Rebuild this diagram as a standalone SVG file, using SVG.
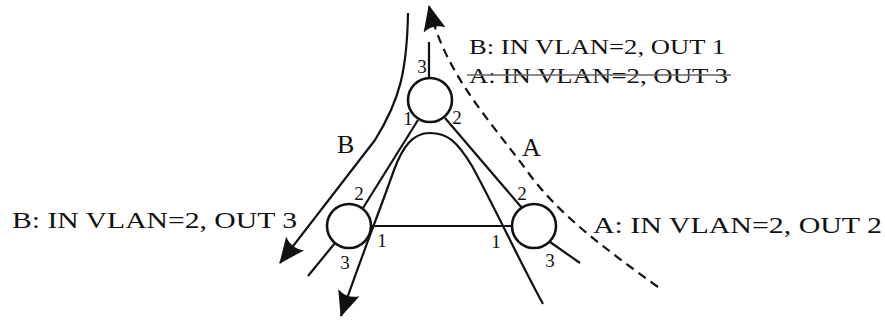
<svg xmlns="http://www.w3.org/2000/svg" width="885" height="320" viewBox="0 0 885 320">
<style>
text{font-family:"Liberation Serif","DejaVu Serif",serif;fill:#111}
.lbl{font-size:24px}
.top{font-size:22px}
.port{font-size:19px;text-anchor:middle}
.big{font-size:26px}
.w{fill:none;stroke:#111;stroke-width:2.2}
.sw{fill:#fff;stroke:#111;stroke-width:2.6}
.dash{stroke-dasharray:9 6}
</style>
<defs>
<marker id="ah" markerUnits="userSpaceOnUse" markerWidth="32" markerHeight="32" viewBox="-26 -13 30 26" refX="0" refY="0" orient="auto">
<path d="M1,0 L-23,-10.5 Q-17,0 -23,10.5 Z" fill="#111"/>
</marker>
</defs>
<g id="connectors">
<line class="w" x1="429" y1="42" x2="429" y2="78"/>
<line class="w" x1="418" y1="120" x2="363" y2="208"/>
<line class="w" x1="445" y1="118" x2="522" y2="208"/>
<line class="w" x1="371" y1="226" x2="512" y2="226"/>
<line class="w" x1="335" y1="243" x2="308" y2="276"/>
<line class="w" x1="550" y1="242" x2="580" y2="263"/>
<path id="pathB" class="w" d="M408,13 C407,70 400,100 375,140 L280,263" marker-end="url(#ah)"/>
<path id="pathInner" class="w" d="M543,304 C520,262 492,202 472,166 C457,141 447,133 430,133 C413,133 403,146 394,170 C380,210 360,260 341,316" marker-end="url(#ah)"/>
<path id="pathA" class="w dash" d="M658,287 C600,245 560,215 530,175 C490,120 445,75 429,6" marker-end="url(#ah)"/>
</g>
<g id="nodeTop">
<circle class="sw" cx="430" cy="100" r="22"/>
<text class="port" x="422" y="73">3</text>
<text class="port" x="408" y="125">1</text>
<text class="port" x="457" y="124">2</text>
</g>
<g id="nodeLeft">
<circle class="sw" cx="349" cy="226" r="22"/>
<text class="port" x="359" y="200">2</text>
<text class="port" x="382" y="247">1</text>
<text class="port" x="345" y="269">3</text>
</g>
<g id="nodeRight">
<circle class="sw" cx="534" cy="226" r="22"/>
<text class="port" x="522" y="200">2</text>
<text class="port" x="496" y="248">1</text>
<text class="port" x="550" y="267">3</text>
</g>
<g id="labels">
<text class="big" x="337" y="153">B</text>
<text class="big" x="522" y="156">A</text>
<text class="top" x="469" y="54" textLength="256" lengthAdjust="spacingAndGlyphs">B: IN VLAN=2, OUT 1</text>
<text class="top" x="469" y="83" textLength="259" lengthAdjust="spacingAndGlyphs">A: IN VLAN=2, OUT 3</text>
<line x1="467" y1="75" x2="731" y2="75" stroke="#666" stroke-width="1.6"/>
<text class="lbl" x="12" y="228" textLength="285" lengthAdjust="spacingAndGlyphs">B: IN VLAN=2, OUT 3</text>
<text class="lbl" x="593" y="233" textLength="289" lengthAdjust="spacingAndGlyphs">A: IN VLAN=2, OUT 2</text>
</g>
</svg>
